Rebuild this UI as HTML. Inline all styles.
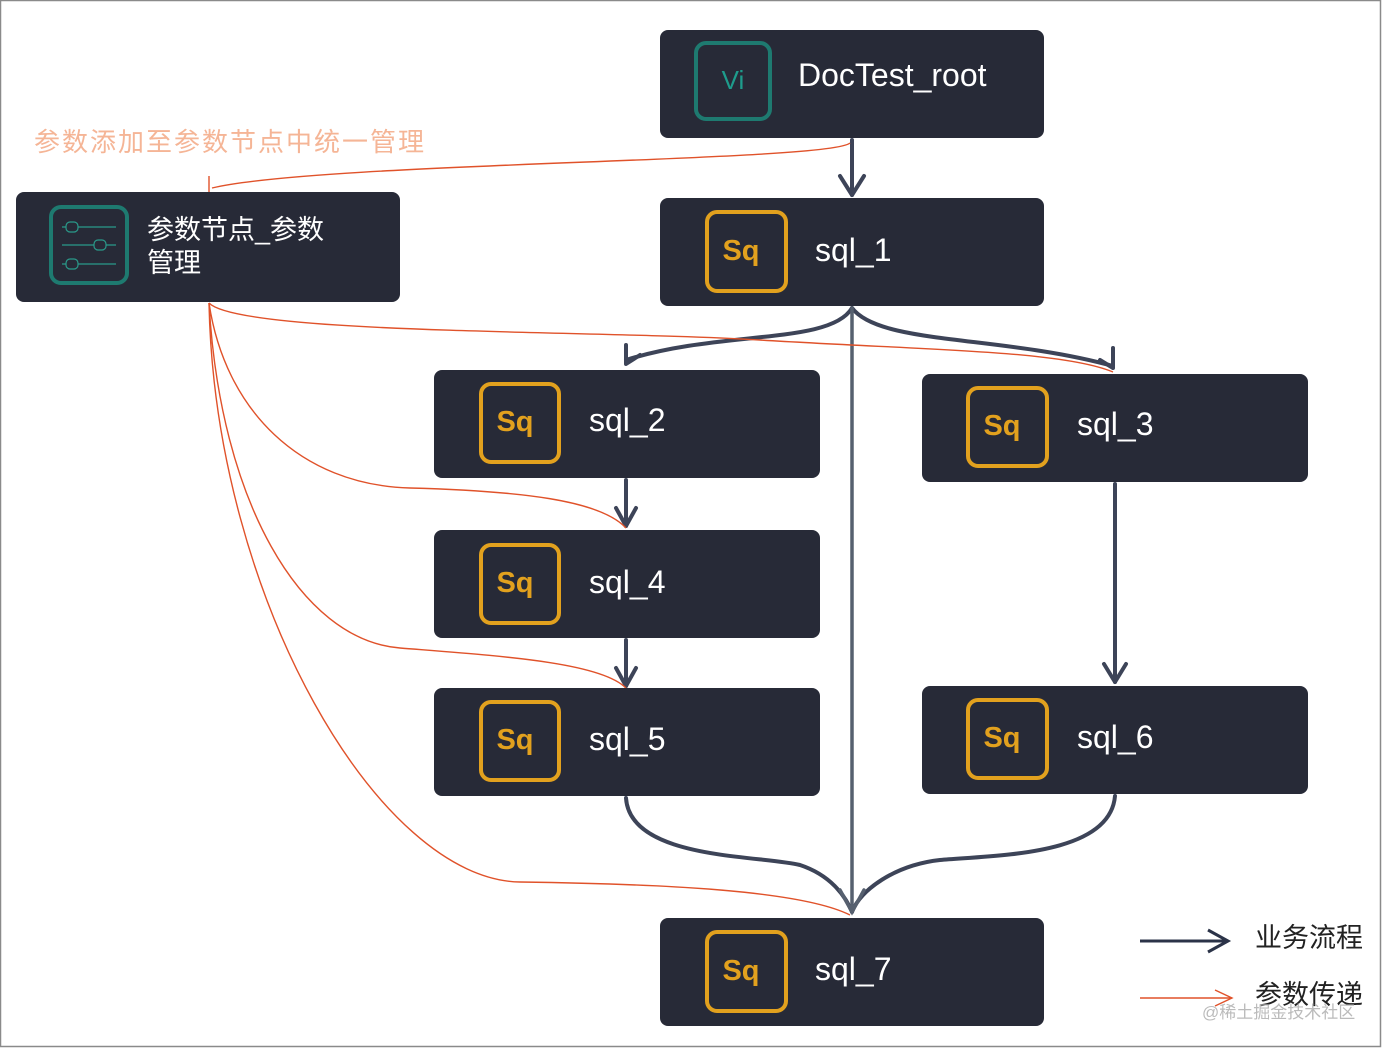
<!DOCTYPE html>
<html><head><meta charset="utf-8"><style>
html,body{margin:0;padding:0;background:#fff;}
body{width:1390px;height:1048px;overflow:hidden;font-family:"Liberation Sans","Noto Sans CJK SC",sans-serif;}
</style></head><body>
<svg width="1390" height="1048" viewBox="0 0 1390 1048" xmlns="http://www.w3.org/2000/svg" font-family="Liberation Sans, Noto Sans CJK SC, sans-serif">
<rect x="0.5" y="0.5" width="1380" height="1046" fill="#fff" stroke="#8a8a8a" stroke-width="1.5"/>

<g fill="none" stroke="#3d4458" stroke-width="4" stroke-linecap="round" stroke-linejoin="round">
  <path d="M852 140 L852 195"/><path d="M840 176 L852 195 L864 176"/>
  <path d="M852 308 C830 345 720 330 626 360"/><path d="M626 345 L626 364 L640 355"/>
  <path d="M852 308 C880 345 1000 335 1113 366"/><path d="M1113 348 L1113 368 L1100 360"/>
  <path d="M626 480 L626 526"/><path d="M616 508 L626 526 L636 508"/>
  <path d="M626 640 L626 686"/><path d="M616 668 L626 686 L636 668"/>
  <path d="M1115 484 L1115 682"/><path d="M1104 664 L1115 682 L1126 664"/>
  <path d="M626 798 C630 860 760 855 800 865 C830 875 845 895 852 912"/>
  <path d="M1115 796 C1110 855 1000 855 940 860 C895 865 860 890 852 912"/>
</g>
<g fill="none" stroke="#56606f" stroke-width="3.5" stroke-linecap="round">
  <path d="M852 308 L852 912"/><path d="M840 890 L852 912 L864 890"/>
</g>

<g fill="none" stroke="#e0522a" stroke-width="1.4">
  <path d="M850 143 C830 162 320 162 212 188"/><path d="M209 176 L209 192"/>
  <path d="M209 303 C240 335 600 330 760 340 S1060 350 1113 372"/>
  <path d="M209 303 C225 410 300 485 410 488 S600 500 626 528"/>
  <path d="M209 303 C220 500 300 640 400 648 S600 662 626 688"/>
  <path d="M209 303 C215 600 380 880 520 882 S800 890 850 915"/>
  <path d="M1140 998 L1232 998"/><path d="M1215 990 L1232 998 L1215 1006"/>
</g>

<path d="M1140 941 L1228 941" stroke="#2b3348" stroke-width="3"/>
<path d="M1208 930 L1228 941 L1208 952" stroke="#2b3348" stroke-width="3" fill="none"/>
<text x="1255" y="947" font-size="27" fill="#222">业务流程</text>
<text x="1255" y="1004" font-size="27" fill="#222">参数传递</text>
<text x="1202" y="1018" font-size="17" fill="#bbb">@稀土掘金技术社区</text>
<text x="34" y="151" font-size="26" letter-spacing="2" fill="#f5b596">参数添加至参数节点中统一管理</text>

<g fill="#272a37">
  <rect x="660" y="30" width="384" height="108" rx="8"/>
  <rect x="16" y="192" width="384" height="110" rx="8"/>
  <rect x="660" y="198" width="384" height="108" rx="8"/>
  <rect x="434" y="370" width="386" height="108" rx="8"/>
  <rect x="922" y="374" width="386" height="108" rx="8"/>
  <rect x="434" y="530" width="386" height="108" rx="8"/>
  <rect x="434" y="688" width="386" height="108" rx="8"/>
  <rect x="922" y="686" width="386" height="108" rx="8"/>
  <rect x="660" y="918" width="384" height="108" rx="8"/>
</g>
<rect x="696" y="43" width="74" height="76" rx="10" fill="none" stroke="#1e7a70" stroke-width="4"/>
<text x="733" y="89" font-size="26" fill="#1e9c8c" text-anchor="middle">Vi</text>
<text x="798" y="86" font-size="32" fill="#fff">DocTest_root</text>
<rect x="51" y="207" width="76" height="76" rx="10" fill="none" stroke="#1e7a70" stroke-width="4"/>
<g stroke="#2a9a8a" stroke-width="1.2" fill="none">
  <path d="M62 227 L116 227"/><path d="M62 245 L116 245"/><path d="M62 264 L116 264"/>
  <rect x="66" y="222" width="12" height="10" rx="4" fill="#272a37"/>
  <rect x="94" y="240" width="12" height="10" rx="4" fill="#272a37"/>
  <rect x="66" y="259" width="12" height="10" rx="4" fill="#272a37"/>
</g>
<text x="147" y="239" font-size="27" fill="#fff">参数节点_参数</text>
<text x="147" y="272" font-size="27" fill="#fff">管理</text>

<g fill="none" stroke="#e2a11e" stroke-width="4">
  <rect x="707" y="212" width="79" height="79" rx="10"/>
  <rect x="481" y="384" width="78" height="78" rx="10"/>
  <rect x="968" y="388" width="79" height="78" rx="10"/>
  <rect x="481" y="545" width="78" height="78" rx="10"/>
  <rect x="481" y="702" width="78" height="78" rx="10"/>
  <rect x="968" y="700" width="79" height="78" rx="10"/>
  <rect x="707" y="932" width="79" height="79" rx="10"/>
</g>
<g font-size="29" font-weight="bold" fill="#e2a11e" text-anchor="middle">
  <text x="741" y="260">Sq</text>
  <text x="515" y="431">Sq</text>
  <text x="1002" y="435">Sq</text>
  <text x="515" y="592">Sq</text>
  <text x="515" y="749">Sq</text>
  <text x="1002" y="747">Sq</text>
  <text x="741" y="980">Sq</text>
</g>
<g font-size="32" fill="#fff">
  <text x="815" y="261">sql_1</text>
  <text x="589" y="431">sql_2</text>
  <text x="1077" y="435">sql_3</text>
  <text x="589" y="593">sql_4</text>
  <text x="589" y="750">sql_5</text>
  <text x="1077" y="748">sql_6</text>
  <text x="815" y="980">sql_7</text>
</g>
</svg>
</body></html>
